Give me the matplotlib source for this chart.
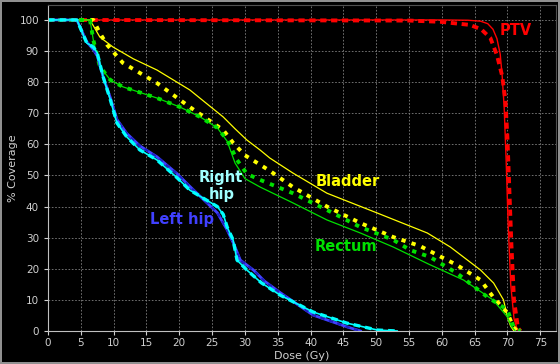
import numpy as np
import matplotlib.pyplot as plt

# dose-volume histogram values (Gy, % coverage)
ptv_x = [0, 60, 64, 65.9, 67, 67.8, 68.4, 68.9, 69.2, 69.5, 69.8, 70.1, 70.5, 71.0, 71.5, 72]
ptv_y = [100, 100, 99.9, 99.6, 98.8, 97, 94, 89, 82, 72, 55, 35, 15, 4, 0.5, 0]
ptv_d_x = [0, 55, 59.8, 64.3, 66, 67.4, 68.4, 69.2, 69.7, 70.0, 70.3, 70.6, 71.0, 71.6, 72]
ptv_d_y = [100, 99.8, 99.4, 98.4, 97, 94.2, 88.7, 82, 74, 62, 45, 28, 10, 1, 0]

bl_x = [0, 6.4, 7.9, 9.9, 13, 16.6, 21.6, 26.7, 28.5, 30.3, 32.3, 33.8, 37.3, 42.5, 50.2, 57.8,
        61.3, 65.9, 67.9, 69.4, 70, 70.5, 71]
bl_y = [100, 100, 94.5, 91.3, 87.5, 83.9, 77.5, 68.8, 65, 61.4, 58.2, 55.6, 50.8, 44.3, 37.9, 31.5,
        27, 19.6, 15.4, 10, 4.5, 1.5, 0]
bl_d_x = [0, 6.9, 7.9, 9, 11.4, 16.6, 21.6, 26.7, 28.2, 30, 31.9, 33.8, 37.3, 42.5, 47.6, 52.6,
          56.7, 62.3, 65.9, 67.8, 70, 70.9, 71.5]
bl_d_y = [100, 100, 95.8, 92, 86.2, 79.7, 72, 64.6, 60.5, 56.5, 54, 51.5, 46.3, 40, 34.7, 30.2,
          27.3, 21.2, 16.4, 11, 5.8, 1.3, 0]

re_x = [0, 6.4, 6.9, 7.9, 9.5, 11.4, 16.6, 20.1, 23.2, 25.8, 27.3, 28.5, 30, 32.3, 37.3, 42.5,
        47.6, 52.6, 58, 63.3, 67.8, 70, 70.6, 71.2]
re_y = [100, 100, 93.6, 85, 80.7, 78.5, 74.9, 72, 68.8, 65.3, 61, 54, 49, 46.3, 41.2, 35.7,
        31.5, 27, 21.5, 16.4, 10, 4.5, 1.5, 0]
re_d_x = [0, 6.4, 6.9, 7.9, 9.5, 11.4, 16.6, 20.1, 23.2, 25.8, 27.3, 28.8, 30.3, 32.3, 37.3,
          42.5, 47.6, 52.6, 55.2, 58.2, 62.3, 66.9, 70, 71, 72]
re_d_y = [100, 100, 93.6, 85, 80.7, 78.5, 74.9, 72, 68.8, 65.3, 61.4, 55, 50.5, 48.6, 44.3,
          38.9, 33.4, 29.3, 26, 23.8, 18.6, 11, 6.8, 1, 0]

rh_x = [0, 4.4, 5.9, 6.9, 7.5, 8.4, 9.5, 10.5, 12, 14, 16.6, 19.7, 21.6, 25.8, 26.7, 27.3, 28.2,
        28.8, 30.3, 32.5, 35.4, 40.4, 45.6, 50.2, 53.2]
rh_y = [100, 100, 92.6, 91.3, 89.4, 81.7, 74.3, 66.9, 62.4, 58.2, 55, 49.2, 45.3, 40, 37.5, 33.4,
        29.3, 22.8, 19.6, 15.5, 11.5, 6.1, 2.5, 0.3, 0]
lh_x = [0, 4.4, 5.9, 6.9, 7.5, 8.4, 9.5, 10.5, 12, 14, 16.6, 19.7, 21.6, 25.8, 27.3, 28.3,
        29.3, 31.3, 33, 35.4, 40.4, 45.6, 47.6]
lh_y = [100, 100, 93, 90.5, 88.5, 81.7, 75, 68, 63.5, 59.5, 56, 50.5, 46.5, 38, 32.5, 28,
        22.8, 19.6, 16, 12.3, 5.1, 1.3, 0]

fig = plt.figure(figsize=(5.6, 3.64), dpi=100, facecolor='black',
                 edgecolor='#909090', linewidth=1.5)
ax = fig.add_axes([48/560, 33/364, 508/560, 326/364], facecolor='black')

dots = (0, (1.1, 1.6))
ax.plot(ptv_x, ptv_y, color='#ff0000', lw=1.0)
ax.plot(ptv_d_x, ptv_d_y, color='#ff0000', lw=2.8, linestyle=(0, (1.6, 1.2)))
ax.plot(bl_x, bl_y, color='#ffff00', lw=0.9)
ax.plot(bl_d_x, bl_d_y, color='#ffff00', lw=2.8, linestyle=dots)
ax.plot(re_x, re_y, color='#00e000', lw=0.9)
ax.plot(re_d_x, re_d_y, color='#00e000', lw=2.8, linestyle=dots)
ax.plot(lh_x, lh_y, color='#4040ff', lw=2.0)
ax.plot(lh_x, lh_y, color='#2020c0', lw=1.6, linestyle=(0, (2, 2)))
ax.plot(rh_x, rh_y, color='#00ffff', lw=1.2)
ax.plot(rh_x, rh_y, color='#00ffff', lw=2.4, linestyle=(0, (2, 1.5)))

lab = dict(fontsize=10.5, fontweight='bold', ha='center', va='center')
ax.text(71.3, 96.5, 'PTV', color='#ff0000', **lab)
ax.text(45.6, 48.2, 'Bladder', color='#ffff00', **lab)
ax.text(45.4, 27.3, 'Rectum', color='#00e000', **lab)
ax.text(26.4, 46.5, 'Right\nhip', color='#a0ffff', linespacing=1.15, **lab)
ax.text(20.4, 36, 'Left hip', color='#4040ff', **lab)

ax.set_xlim(0, 77.4)
ax.set_ylim(0, 104.8)
ax.set_xticks(np.arange(0, 80, 5))
ax.set_yticks(np.arange(0, 110, 10))
ax.grid(True, color='#808080', linestyle=(0, (2, 2)), linewidth=0.6)
ax.tick_params(colors='#d0d0d0', labelsize=7.5, length=3, width=0.8)
ax.tick_params(axis='x', pad=2)
for s in ['left', 'bottom']:
    ax.spines[s].set_color('#c0c0c0')
for s in ['top', 'right']:
    ax.spines[s].set_color('#505050')
ax.set_xlabel('Dose (Gy)', color='#d0d0d0', fontsize=8)
ax.set_ylabel('% Coverage', color='#d0d0d0', fontsize=8)
ax.xaxis.set_label_coords(0.5, -0.062)
ax.yaxis.set_label_coords(-0.06, 0.5)

fig.savefig('out.png', dpi=100, facecolor='black', edgecolor='#909090')
